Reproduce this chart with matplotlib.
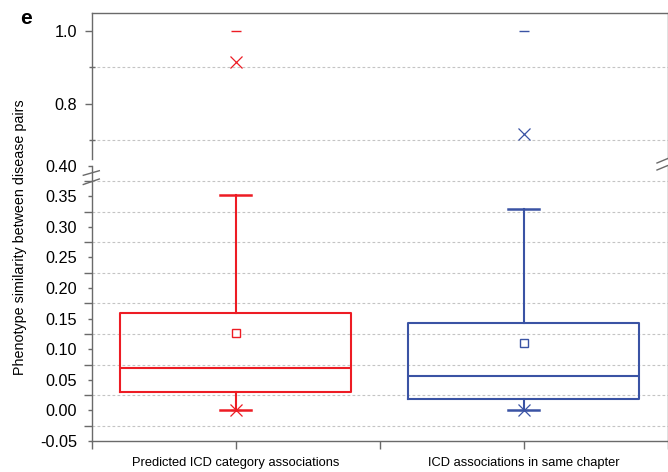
import matplotlib
matplotlib.use("Agg")
import matplotlib.pyplot as plt
from matplotlib.lines import Line2D
import numpy as np

plt.rcParams['font.family'] = ['Liberation Sans', 'DejaVu Sans']

# ---- data ----
categories = ['Predicted ICD category associations', 'ICD associations in same chapter']
q1 = [0.030, 0.0185]
median = [0.0695, 0.0565]
q3 = [0.159, 0.143]
mean = [0.126, 0.110]
whisker_low = [0.0, 0.0]
whisker_high = [0.352, 0.330]
pct1 = [0.0, 0.0]
pct99 = [0.914, 0.718]
minimum = [0.0, 0.0]
maximum = [1.0, 1.0]
colors = ['#ED1C24', '#3A53A4']

ylabel = 'Phenotype similarity between disease pairs'
lower_major = [-0.05, 0.00, 0.05, 0.10, 0.15, 0.20, 0.25, 0.30, 0.35, 0.40]
lower_minor = [-0.025, 0.025, 0.075, 0.125, 0.175, 0.225, 0.275, 0.325, 0.375]
upper_major = [0.8, 1.0]
upper_minor = [0.7, 0.9]

W, H = 668, 472
fig = plt.figure(figsize=(W / 100, H / 100), dpi=100)

def fx(px):
    return px / W

def fy(py):
    return 1 - py / H

left, right = 91.5, 667.5
ax_up = fig.add_axes([fx(left), fy(159), fx(right - left), (159 - 12.7) / H])
ax_lo = fig.add_axes([fx(left), fy(441), fx(right - left), (441 - 165.7) / H])

spine_col = '#6a6a6a'
grid_col = '#c4c4c4'
positions = [1, 2]

for ax in (ax_up, ax_lo):
    ax.set_xlim(0.5, 2.5)
    for s in ax.spines.values():
        s.set_color(spine_col)
        s.set_linewidth(1.0)
    ax.grid(which='minor', axis='y', color=grid_col, linestyle=(0, (2.5, 2)), linewidth=0.8)
    ax.grid(which='major', visible=False)
    ax.set_axisbelow(True)

ax_up.spines['bottom'].set_visible(False)
ax_lo.spines['top'].set_visible(False)

ax_up.set_ylim(0.6485, 1.049)
ax_lo.set_ylim(-0.05, 0.40)

# boxes
for i, pos in enumerate(positions):
    st = [dict(med=median[i], q1=q1[i], q3=q3[i], whislo=whisker_low[i],
               whishi=whisker_high[i], mean=mean[i], fliers=[])]
    c = colors[i]
    ax_lo.bxp(st, positions=[pos], widths=0.8, capwidths=0.105, showmeans=True,
              showfliers=False,
              boxprops=dict(color=c, linewidth=1.5),
              medianprops=dict(color=c, linewidth=1.5),
              whiskerprops=dict(color=c, linewidth=1.5),
              capprops=dict(color=c, linewidth=1.8),
              meanprops=dict(marker='s', markerfacecolor='white', markeredgecolor=c,
                             markersize=5.5, markeredgewidth=1.0))
    for ax in (ax_up, ax_lo):
        ax.plot([pos, pos], [pct1[i], pct99[i]], linestyle='none', marker='x',
                color=c, markersize=8, markeredgewidth=0.9, zorder=4)
        ax.plot([pos, pos], [minimum[i], maximum[i]], linestyle='none', marker='_',
                color=c, markersize=7, markeredgewidth=1.0, zorder=4)

# ticks
ax_up.set_xticks([])
ax_up.set_yticks(upper_major)
ax_up.set_yticklabels(['%.1f' % v for v in upper_major])
ax_up.set_yticks(upper_minor, minor=True)
ax_up.tick_params(axis='y', which='major', direction='out', length=5, width=1.0,
                  color=spine_col, pad=5.4, labelsize=11.7)
ax_up.tick_params(axis='y', which='minor', direction='inout', length=5, width=1.0,
                  color=spine_col)

ax_lo.set_yticks(lower_major)
ax_lo.set_yticklabels(['%.2f' % v for v in lower_major])
ax_lo.set_yticks(lower_minor, minor=True)
ax_lo.tick_params(axis='y', which='major', direction='out', length=3, width=1.0,
                  color=spine_col, pad=7.5, labelsize=11.7)
ax_lo.tick_params(axis='y', which='minor', direction='out', length=6, width=1.0,
                  color=spine_col)

ax_lo.set_xticks([0.5, 1, 1.5, 2, 2.5])
ax_lo.set_xticklabels(['', categories[0], '', categories[1], ''])
ax_lo.tick_params(axis='x', which='major', direction='out', length=5.8, width=1.0,
                  color=spine_col, pad=5.5, labelsize=9.3)
ax_lo.tick_params(axis='x', which='minor', bottom=False)

for ax in (ax_up, ax_lo):
    ax.tick_params(right=False, top=False)

# break marks
def brk(x1, y1, x2, y2):
    fig.add_artist(Line2D([fx(x1), fx(x2)], [fy(y1), fy(y2)], transform=fig.transFigure,
                          color=spine_col, linewidth=1.0))

brk(83.3, 175.3, 99.3, 170.7)
brk(83.3, 184.5, 99.3, 179.0)
brk(657, 163, 669, 158)
brk(657, 170, 669, 165)

fig.text(fx(20), fy(237.5), ylabel, rotation=90, ha='center', va='center', fontsize=10.3)
fig.text(fx(20), fy(24), 'e', fontsize=15, fontweight='bold', ha='left', va='baseline')

fig.savefig('out.png', dpi=100)
